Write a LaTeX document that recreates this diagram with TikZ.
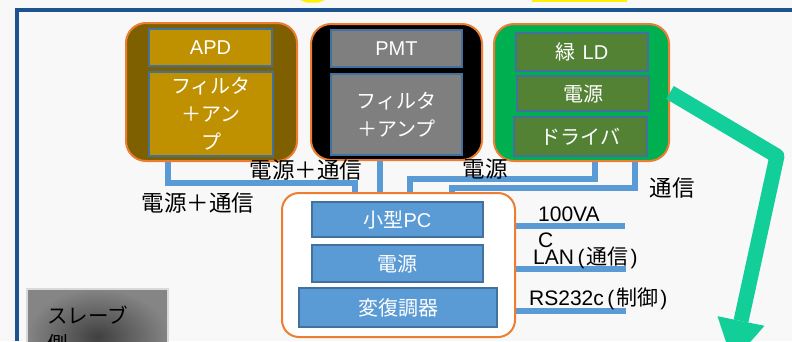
\documentclass[tikz,border=0pt]{standalone}
\usepackage{fontspec}
\setmainfont{Noto Sans CJK JP}
\newfontfamily\lat{Liberation Sans}
\usetikzlibrary{calc}
\definecolor{orangeb}{HTML}{ED7D31}
\definecolor{innerb}{HTML}{41719C}
\definecolor{apdout}{HTML}{7F6000}
\definecolor{apdin}{HTML}{BF9000}
\definecolor{pmtin}{HTML}{7F7F7F}
\definecolor{grout}{HTML}{00B050}
\definecolor{grin}{HTML}{548235}
\definecolor{pcin}{HTML}{5B9BD5}
\definecolor{connc}{HTML}{5B9BD5}
\definecolor{mint}{RGB}{18,206,152}
\definecolor{framec}{HTML}{1B5490}
\definecolor{bgc}{HTML}{F8F8F8}
\pgfdeclarelayer{back}
\pgfsetlayers{back,main}
\begin{document}
\begin{tikzpicture}[x=1pt,y=-1pt,
  outerbox/.style={draw=orangeb, line width=2pt, rounded corners=20pt, inner sep=0pt},
  innerbox/.style={draw=innerb, line width=2pt, inner sep=0pt, text=white, align=center,
    font=\fontsize{20}{28}\selectfont},
  lbl/.style={inner sep=0pt, text=black, font=\fontsize{22.5}{26}\selectfont},
  sidelbl/.style={inner sep=0pt, text=black, font=\fontsize{21}{26}\selectfont, align=left},
  conn/.style={draw=connc, line width=6pt},
  arrowline/.style={draw=mint, line width=15pt, line join=round}]
\useasboundingbox (0,0) rectangle (792,341);
\clip (0,0) rectangle (792,341);
\begin{pgfonlayer}{back}
\fill[bgc] (0,0) rectangle (792,341);
\end{pgfonlayer}
% cut-off yellow shapes at the top
\fill[yellow] (300,0) -- (325,0) -- (318,2.7) -- (307,2.7) -- cycle;
\fill[yellow] (532,0) rectangle (627,1.8);
% frame
\draw[framec, line width=4pt] (17,341) -- (17,9.5) -- (792,9.5);

% APD unit
\node[outerbox, fill=apdout, minimum width=171pt, minimum height=138pt] (apdbox) at (211.5,92) {};
\node[innerbox, fill=apdin, minimum width=123pt, minimum height=37pt] (apd) at (210.5,47.5) {\lat APD};
\node[innerbox, fill=apdin, minimum width=124pt, minimum height=84pt] (apdamp) at (211,114) {フィルタ\\＋アン\\プ};

% PMT unit
\node[outerbox, fill=black, minimum width=171pt, minimum height=136pt] (pmtbox) at (396.5,92) {};
\node[innerbox, fill=pmtin, minimum width=131pt, minimum height=37pt] (pmt) at (396.5,48.5) {\lat PMT};
\node[innerbox, fill=pmtin, minimum width=131pt, minimum height=81pt] (pmtamp) at (396.5,114.5) {フィルタ\\＋アンプ};

% green LD unit
\node[outerbox, fill=grout, minimum width=175pt, minimum height=137pt] (greenbox) at (581.5,92.5) {};
\node[innerbox, fill=grin, minimum width=132pt, minimum height=38pt] (ld) at (582,52) {緑\hspace{7pt}{\lat LD}};
\node[innerbox, fill=grin, minimum width=132pt, minimum height=35pt] (ldpow) at (583,93.5) {電源};
\node[innerbox, fill=grin, minimum width=133pt, minimum height=39pt] (lddrv) at (580.5,136.5) {ドライバ};

% PC unit
\node[outerbox, fill=white, rounded corners=17pt, minimum width=233pt, minimum height=144pt] (pcbox) at (398.5,265) {};
\node[innerbox, fill=pcin, minimum width=171pt, minimum height=35pt] (pc) at (397.5,219.5) {小型{\lat PC}};
\node[innerbox, fill=pcin, minimum width=171pt, minimum height=37pt] (pcpow) at (397.5,263.5) {電源};
\node[innerbox, fill=pcin, minimum width=198pt, minimum height=39pt] (modem) at (398,307.5) {変復調器};

% connectors
\begin{pgfonlayer}{back}
\draw[conn] ([xshift=-43.5pt]apdbox.south) -- ++(0,21) -| ([xshift=-43.5pt]pcbox.north);
\draw[conn] ([xshift=-16.5pt]pmtbox.south) -- ([xshift=-18.5pt]pcbox.north);
\draw[conn] ([xshift=13.5pt]greenbox.south) -- ++(0,17) -| ([xshift=11.5pt]pcbox.north);
\draw[conn] ([xshift=53.5pt]greenbox.south) -- ++(0,26) -| ([xshift=53.5pt]pcbox.north);
\coordinate (l1) at (625,226);
\coordinate (l2) at (626,269);
\coordinate (l3) at (626,311);
\draw[conn] (pcbox.east |- l1) -- (l1);
\draw[conn] (pcbox.east |- l2) -- (l2);
\draw[conn] (pcbox.east |- l3) -- (l3);
\end{pgfonlayer}

% labels
\node[lbl] (lab1) at (306,170) {電源＋通信};
\node[lbl] (lab2) at (198,203) {電源＋通信};
\node[lbl] (lab3) at (485,169) {電源};
\node[lbl] (lab4) at (672,188) {通信};
\node[sidelbl, anchor=north west] (lab5) at (538,207) {\lat 100VA\\\lat C};
\node[sidelbl, anchor=west] (lab6) at (533,258) {{\lat LAN}\hspace{3.5pt}{\lat(}\hspace{2pt}通信\hspace{2pt}{\lat)}};
\node[sidelbl, anchor=west] (lab7) at (529,299) {{\lat RS232c}\hspace{3.5pt}{\lat(}\hspace{2pt}制御\hspace{2pt}{\lat)}};

% slave box
\shade[inner color=black!75, outer color=black!48, draw=black!15, line width=2pt] (27,289) rectangle (168,385);
\node[inner sep=0pt, anchor=north west, align=left, font=\fontsize{20.5}{28}\selectfont] (slave) at (47,306) {スレーブ\\側};

% green arrow
\coordinate (bend) at (777,156);
\coordinate (hb) at (741,321);
\coordinate (hl) at (717.5,316.2);
\coordinate (hr) at (764.5,325.8);
\coordinate (tip) at (732.6,362);
\draw[arrowline] (greenbox.east) -- (bend) -- (hb);
\fill[mint] (hl) -- (tip) -- (hr) -- cycle;
\end{tikzpicture}
\end{document}
